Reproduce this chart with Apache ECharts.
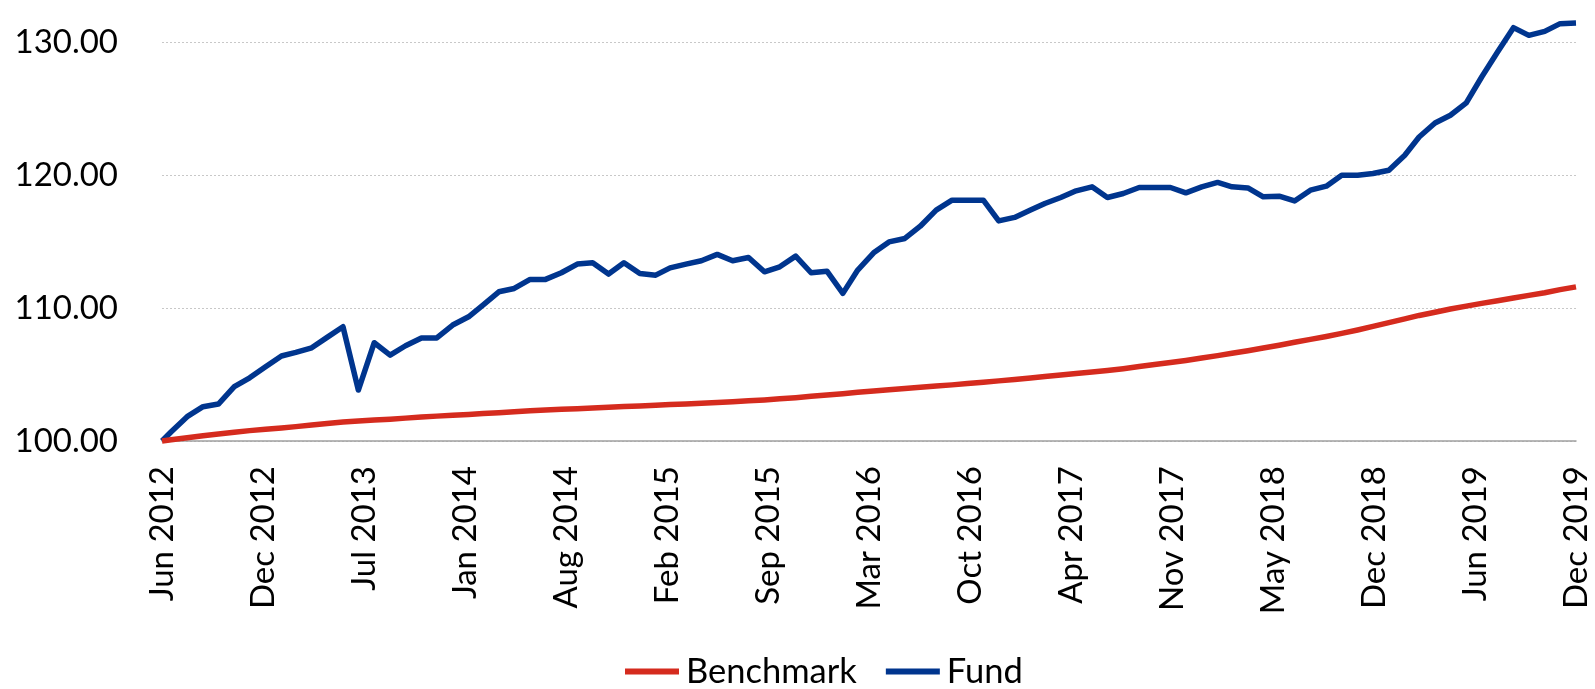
<!DOCTYPE html>
<html>
<head>
<meta charset="utf-8">
<script src="https://cdn.jsdelivr.net/npm/echarts@6/dist/echarts.min.js"></script>
<style>
  html, body { margin: 0; padding: 0; background: #fff; }
  #main { width: 1595px; height: 689px; }
</style>
</head>
<body>
<div id="main"></div>
<script>
// dates of the points (launch day, then month ends)
var dates = [
  '2012-06-12', '2012-06-30', '2012-07-31', '2012-08-31', '2012-09-30', '2012-10-31', '2012-11-30', '2012-12-31',
  '2013-01-31', '2013-02-28', '2013-03-31', '2013-04-30', '2013-05-31', '2013-06-30',
  '2013-07-31', '2013-08-31', '2013-09-30', '2013-10-31', '2013-11-30', '2013-12-31',
  '2014-01-31', '2014-02-28', '2014-03-31', '2014-04-30', '2014-05-31', '2014-06-30',
  '2014-07-31', '2014-08-31', '2014-09-30', '2014-10-31', '2014-11-30', '2014-12-31',
  '2015-01-31', '2015-02-28', '2015-03-31', '2015-04-30', '2015-05-31', '2015-06-30',
  '2015-07-31', '2015-08-31', '2015-09-30', '2015-10-31', '2015-11-30', '2015-12-31',
  '2016-01-31', '2016-02-29', '2016-03-31', '2016-04-30', '2016-05-31', '2016-06-30',
  '2016-07-31', '2016-08-31', '2016-09-30', '2016-10-31', '2016-11-30', '2016-12-31',
  '2017-01-31', '2017-02-28', '2017-03-31', '2017-04-30', '2017-05-31', '2017-06-30',
  '2017-07-31', '2017-08-31', '2017-09-30', '2017-10-31', '2017-11-30', '2017-12-31',
  '2018-01-31', '2018-02-28', '2018-03-31', '2018-04-30', '2018-05-31', '2018-06-30',
  '2018-07-31', '2018-08-31', '2018-09-30', '2018-10-31', '2018-11-30', '2018-12-31',
  '2019-01-31', '2019-02-28', '2019-03-31', '2019-04-30', '2019-05-31', '2019-06-30',
  '2019-07-31', '2019-08-31', '2019-09-30', '2019-10-31', '2019-11-30', '2019-12-31'
];

var fund = [
  100.00, 100.70, 101.83, 102.58, 102.78, 104.08, 104.75, 105.58,
  106.39, 106.66, 107.01, 107.79, 108.59, 103.83,
  107.39, 106.46, 107.16, 107.75, 107.75, 108.72,
  109.34, 110.22, 111.22, 111.47, 112.15, 112.15,
  112.65, 113.30, 113.40, 112.55, 113.40, 112.60,
  112.47, 113.02, 113.30, 113.55, 114.03, 113.55,
  113.80, 112.72, 113.10, 113.90, 112.65, 112.77,
  111.10, 112.85, 114.15, 114.97, 115.23, 116.15,
  117.36, 118.11, 118.11, 118.11, 116.55, 116.81,
  117.36, 117.86, 118.31, 118.81, 119.11, 118.31,
  118.61, 119.06, 119.06, 119.06, 118.66, 119.11,
  119.44, 119.11, 119.03, 118.36, 118.41, 118.05,
  118.86, 119.16, 119.98, 119.98, 120.11, 120.36,
  121.49, 122.86, 123.91, 124.49, 125.42, 127.37,
  129.25, 131.08, 130.50, 130.80, 131.38, 131.43
];

var benchmark = [
  100.00, 100.10, 100.25, 100.40, 100.52, 100.65, 100.78, 100.88,
  100.98, 101.08, 101.20, 101.32, 101.42, 101.50,
  101.57, 101.64, 101.72, 101.80, 101.87, 101.94,
  102.00, 102.07, 102.13, 102.20, 102.27, 102.33,
  102.38, 102.43, 102.48, 102.54, 102.59, 102.64,
  102.69, 102.74, 102.79, 102.84, 102.90, 102.96,
  103.02, 103.09, 103.17, 103.26, 103.36, 103.46,
  103.56, 103.66, 103.76, 103.86, 103.95, 104.04,
  104.13, 104.22, 104.32, 104.42, 104.52, 104.63,
  104.74, 104.85, 104.96, 105.07, 105.18, 105.30,
  105.44, 105.60, 105.75, 105.90, 106.06, 106.24,
  106.42, 106.60, 106.79, 106.99, 107.20, 107.42,
  107.64, 107.86, 108.09, 108.35, 108.62, 108.90,
  109.18, 109.44, 109.68, 109.92, 110.14, 110.35,
  110.55, 110.75, 110.95, 111.15, 111.38, 111.59
];

var tickLabels = ['Jun 2012', 'Dec 2012', 'Jul 2013', 'Jan 2014', 'Aug 2014', 'Feb 2015', 'Sep 2015',
  'Mar 2016', 'Oct 2016', 'Apr 2017', 'Nov 2017', 'May 2018', 'Dec 2018', 'Jun 2019', 'Dec 2019'];

var yTicks = [100, 110, 120, 130];

// day number of a yyyy-mm-dd string
function dayNum(s) {
  var p = s.split('-');
  return Date.UTC(+p[0], +p[1] - 1, +p[2]) / 86400000;
}

var xMin = dayNum(dates[0]);
var xMax = dayNum(dates[dates.length - 1]);
var xStep = (xMax - xMin) / (tickLabels.length - 1);

var font = 'Lato, "Open Sans", sans-serif';

var chart = echarts.init(document.getElementById('main'));
var option = {
  animation: false,
  textStyle: { fontFamily: font },
  grid: { left: 162, right: 19, top: 42, bottom: 248 },
  legend: {
    data: ['Benchmark', 'Fund'],
    bottom: -5,
    left: 620,
    icon: 'rect',
    itemWidth: 54,
    itemHeight: 6,
    itemGap: 29,
    textStyle: { fontSize: 34.5, color: '#000', fontFamily: font, padding: [0, 0, 0, 2] }
  },
  xAxis: {
    type: 'value',
    min: xMin,
    max: xMax,
    interval: xStep,
    axisLine: { lineStyle: { color: '#a0a0a0', width: 1.5 } },
    axisTick: { show: false },
    splitLine: { show: false },
    axisLabel: {
      rotate: 90,
      margin: 25,
      fontSize: 33,
      color: '#000',
      fontFamily: font,
      showMinLabel: true,
      showMaxLabel: true,
      hideOverlap: false,
      formatter: function (v) {
        return tickLabels[Math.round((v - xMin) / xStep)];
      }
    }
  },
  yAxis: {
    type: 'value',
    min: yTicks[0],
    max: yTicks[yTicks.length - 1],
    interval: 10,
    axisLine: { show: false },
    axisTick: { show: false },
    splitLine: { lineStyle: { color: '#c8c8c8', type: [2, 2], width: 1 } },
    axisLabel: {
      margin: 44,
      fontSize: 33,
      color: '#000',
      fontFamily: font,
      formatter: function (v) { return v.toFixed(2); }
    }
  },
  series: [
    {
      name: 'Benchmark',
      type: 'line',
      showSymbol: false,
      symbol: 'none',
      clip: false,
      z: 3,
      lineStyle: { color: '#d52b1e', width: 5.5, join: 'round' },
      itemStyle: { color: '#d52b1e' },
      data: dates.map(function (d, i) { return [dayNum(d), benchmark[i]]; })
    },
    {
      name: 'Fund',
      type: 'line',
      showSymbol: false,
      symbol: 'none',
      clip: false,
      z: 2,
      lineStyle: { color: '#00358e', width: 5.5, join: 'round' },
      itemStyle: { color: '#00358e' },
      data: dates.map(function (d, i) { return [dayNum(d), fund[i]]; })
    }
  ]
};
chart.setOption(option);
</script>
</body>
</html>
